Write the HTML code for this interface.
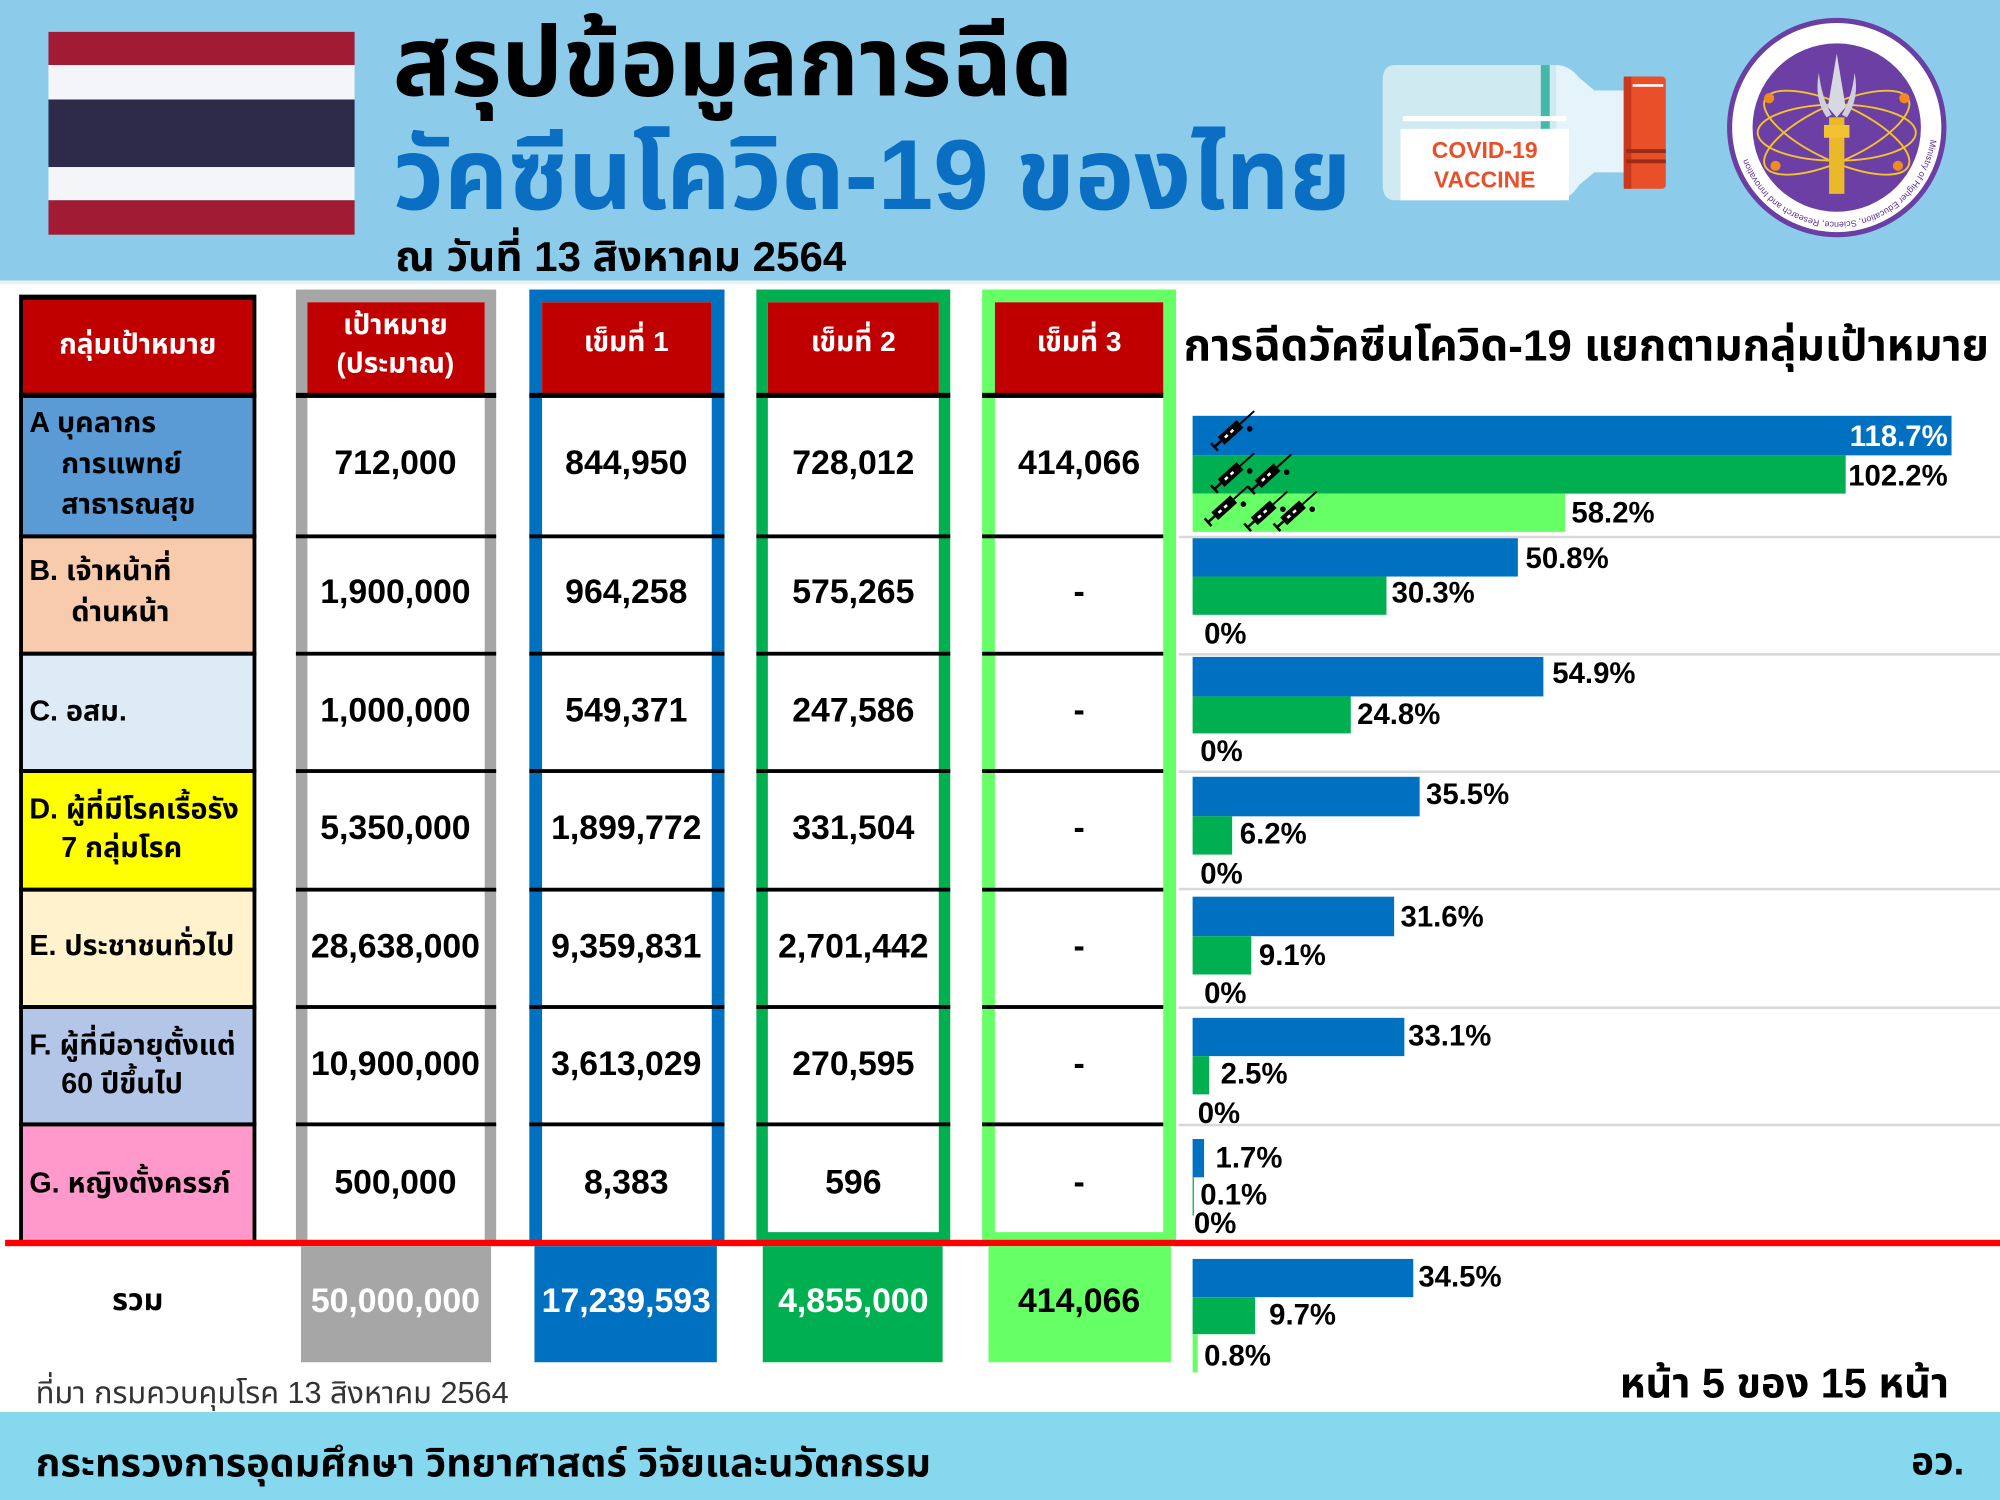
<!DOCTYPE html>
<html><head><meta charset="utf-8">
<style>
html,body{margin:0;padding:0;background:#fff;}
body{width:2000px;height:1500px;overflow:hidden;position:relative;}
#s{position:absolute;left:0;top:0;width:1568px;height:1176px;transform:scale(1.27551);transform-origin:0 0;overflow:hidden;
font-family:"Liberation Sans","Noto Sans Thai","Noto Sans Thai UI","Loma","Garuda","Waree","Tlwg Typo","Sawasdee","DejaVu Sans",sans-serif;}
.a{position:absolute;}
.t{position:absolute;white-space:nowrap;line-height:1;transform:translate(0,-50%);font-weight:bold;color:#000;}
.c{position:absolute;white-space:nowrap;line-height:1;transform:translate(-50%,-50%);font-weight:bold;color:#000;}
.r{position:absolute;white-space:nowrap;line-height:1;transform:translate(-100%,-50%);font-weight:bold;color:#000;}
.hd{color:#fff;font-size:22px;}
.num{font-size:26.5px;}
.lab{font-size:22.5px;}
.lbl{font-size:23px;}
.blk{position:absolute;background:#000;}
</style></head><body>
<div id="s">
<!-- header band -->
<div class="a" style="left:0;top:0;width:1568px;height:220px;background:#8DCBEB;"></div>
<div class="a" style="left:0;top:220px;width:1568px;height:3px;background:#e9f3f8;"></div>
<!-- flag -->
<div class="a" style="left:38px;top:25px;width:240px;height:26px;background:#A01B33;"></div>
<div class="a" style="left:38px;top:51px;width:240px;height:27px;background:#F4F5F8;"></div>
<div class="a" style="left:38px;top:78px;width:240px;height:53px;background:#2D2A4A;"></div>
<div class="a" style="left:38px;top:131px;width:240px;height:26px;background:#F4F5F8;"></div>
<div class="a" style="left:38px;top:157px;width:240px;height:27px;background:#A01B33;"></div>
<!-- titles -->
<div class="t" style="left:308px;top:50px;font-size:76px;">สรุปข้อมูลการฉีด</div>
<div class="t" style="left:308px;top:137px;font-size:78px;color:#0A6FC2;">วัคซีนโควิด-19 ของไทย</div>
<div class="t" style="left:310px;top:201px;font-size:33px;">ณ วันที่ 13 สิงหาคม 2564</div>
<!-- vaccine vial -->
<svg class="a" style="left:1080px;top:45px;" width="235" height="120" viewBox="0 0 235 120">
 <path d="M14 6 H140 Q150 6 158 16 L170 26 H196 V90 H170 L158 100 Q150 112 140 112 H14 Q4 112 4 100 V18 Q4 6 14 6 Z" fill="#CFEAF1"/>
 <path d="M140 6 Q150 6 158 16 L170 26 H196 V90 H170 L158 100 Q150 112 140 112 Z" fill="#E4F4FA"/>
 <rect x="128" y="6" width="7" height="60" fill="#45B9A8"/>
 <rect x="20" y="46" width="128" height="4" fill="#ffffff"/>
 <rect x="18" y="56" width="132" height="56" fill="#ffffff"/>
 <text x="84" y="79" text-anchor="middle" font-family="Liberation Sans, sans-serif" font-weight="bold" font-size="18" fill="#E8502B">COVID-19</text>
 <text x="84" y="102" text-anchor="middle" font-family="Liberation Sans, sans-serif" font-weight="bold" font-size="18" fill="#E8502B">VACCINE</text>
 <rect x="193" y="15" width="33" height="88" rx="3" fill="#E9502A"/>
 <rect x="193" y="15" width="6" height="88" fill="#C8391D"/>
 <rect x="200" y="21" width="24" height="2" fill="#ffffff"/>
 <rect x="195" y="72" width="31" height="3" fill="#9B2A17"/>
 <rect x="195" y="80" width="31" height="3" fill="#9B2A17"/>
</svg>
<!-- logo -->
<svg class="a" style="left:1352px;top:12px;" width="176" height="176" viewBox="0 0 176 176">
 <defs><path id="ring" d="M88 88 m-74 0 a74 74 0 1 1 148 0 a74 74 0 1 1 -148 0"/></defs>
 <circle cx="88" cy="88" r="84" fill="#fff" stroke="#6A3FA3" stroke-width="4"/>
 <circle cx="88" cy="88" r="66" fill="#6B3FA3"/>
 <text font-family="Liberation Sans, sans-serif" font-size="7" fill="#5A3090"><textPath href="#ring" startOffset="52%">Ministry of Higher Education, Science, Research and Innovation</textPath></text>
 <g fill="none" stroke="#F2C230" stroke-width="1.5">
  <ellipse cx="88" cy="92" rx="62" ry="22" transform="rotate(-25 88 92)"/>
  <ellipse cx="88" cy="92" rx="62" ry="22" transform="rotate(25 88 92)"/>
  <ellipse cx="88" cy="92" rx="62" ry="22"/>
 </g>
 <circle cx="35" cy="65" r="4" fill="#F08A24"/><circle cx="141" cy="65" r="4" fill="#F08A24"/>
 <circle cx="40" cy="118" r="4" fill="#F08A24"/><circle cx="136" cy="118" r="4" fill="#F08A24"/>
 <path d="M88 30 L95 72 L88 80 L81 72 Z" fill="#D8D8E0"/>
 <path d="M74 45 Q70 65 80 80 L84 78 Q76 64 74 45Z M102 45 Q106 65 96 80 L92 78 Q100 64 102 45Z" fill="#CFCFD8"/>
 <rect x="82" y="80" width="12" height="60" fill="#E9B92A"/>
 <rect x="78" y="86" width="20" height="10" fill="#F2C230"/>
</svg>

<!-- ================= TABLE ================= -->
<!-- column 1 -->
<div class="a" style="left:15px;top:231px;width:186px;height:744px;background:#000;"></div>
<div class="a" style="left:18px;top:235px;width:180px;height:73px;background:#C00000;"></div>
<div class="a" style="left:18px;top:312px;width:180px;height:107px;background:#5B9BD5;"></div>
<div class="a" style="left:18px;top:422px;width:180px;height:89px;background:#F8CBAD;"></div>
<div class="a" style="left:18px;top:514px;width:180px;height:89px;background:#DDEBF7;"></div>
<div class="a" style="left:18px;top:606px;width:180px;height:90px;background:#FFFF00;"></div>
<div class="a" style="left:18px;top:699px;width:180px;height:89px;background:#FFF2CC;"></div>
<div class="a" style="left:18px;top:791px;width:180px;height:89px;background:#B4C6E7;"></div>
<div class="a" style="left:18px;top:883px;width:180px;height:92px;background:#FF99CC;"></div>

<!-- gray column -->
<div class="a" style="left:232px;top:227px;width:157px;height:748px;background:#A6A6A6;"></div>
<div class="a" style="left:241px;top:237px;width:139px;height:738px;background:#fff;"></div>
<div class="a" style="left:241px;top:237px;width:139px;height:72px;background:#C00000;"></div>
<!-- blue column -->
<div class="a" style="left:415px;top:227px;width:153px;height:748px;background:#0070C0;"></div>
<div class="a" style="left:425px;top:237px;width:133px;height:738px;background:#fff;"></div>
<div class="a" style="left:425px;top:237px;width:133px;height:72px;background:#C00000;"></div>
<!-- green column -->
<div class="a" style="left:593px;top:227px;width:152px;height:748px;background:#00B050;"></div>
<div class="a" style="left:602px;top:237px;width:134px;height:729px;background:#fff;"></div>
<div class="a" style="left:602px;top:237px;width:134px;height:72px;background:#C00000;"></div>
<!-- light green column -->
<div class="a" style="left:770px;top:227px;width:152px;height:748px;background:#66FF66;"></div>
<div class="a" style="left:780px;top:237px;width:132px;height:729px;background:#fff;"></div>
<div class="a" style="left:780px;top:237px;width:132px;height:72px;background:#C00000;"></div>

<!-- horizontal black separators -->
<div class="blk" style="left:15px;top:308px;width:186px;height:4px;"></div>
<div class="blk" style="left:232px;top:308px;width:157px;height:4px;"></div>
<div class="blk" style="left:415px;top:308px;width:153px;height:4px;"></div>
<div class="blk" style="left:593px;top:308px;width:152px;height:4px;"></div>
<div class="blk" style="left:770px;top:308px;width:142px;height:4px;"></div>

<div class="blk" style="left:15px;top:419px;width:186px;height:3px;"></div>
<div class="blk" style="left:232px;top:419px;width:157px;height:3px;"></div>
<div class="blk" style="left:415px;top:419px;width:153px;height:3px;"></div>
<div class="blk" style="left:593px;top:419px;width:152px;height:3px;"></div>
<div class="blk" style="left:770px;top:419px;width:142px;height:3px;"></div>

<div class="blk" style="left:15px;top:511px;width:186px;height:3px;"></div>
<div class="blk" style="left:232px;top:511px;width:157px;height:3px;"></div>
<div class="blk" style="left:415px;top:511px;width:153px;height:3px;"></div>
<div class="blk" style="left:593px;top:511px;width:152px;height:3px;"></div>
<div class="blk" style="left:770px;top:511px;width:142px;height:3px;"></div>

<div class="blk" style="left:15px;top:603px;width:186px;height:3px;"></div>
<div class="blk" style="left:232px;top:603px;width:157px;height:3px;"></div>
<div class="blk" style="left:415px;top:603px;width:153px;height:3px;"></div>
<div class="blk" style="left:593px;top:603px;width:152px;height:3px;"></div>
<div class="blk" style="left:770px;top:603px;width:142px;height:3px;"></div>

<div class="blk" style="left:15px;top:696px;width:186px;height:3px;"></div>
<div class="blk" style="left:232px;top:696px;width:157px;height:3px;"></div>
<div class="blk" style="left:415px;top:696px;width:153px;height:3px;"></div>
<div class="blk" style="left:593px;top:696px;width:152px;height:3px;"></div>
<div class="blk" style="left:770px;top:696px;width:142px;height:3px;"></div>

<div class="blk" style="left:15px;top:788px;width:186px;height:3px;"></div>
<div class="blk" style="left:232px;top:788px;width:157px;height:3px;"></div>
<div class="blk" style="left:415px;top:788px;width:153px;height:3px;"></div>
<div class="blk" style="left:593px;top:788px;width:152px;height:3px;"></div>
<div class="blk" style="left:770px;top:788px;width:142px;height:3px;"></div>

<div class="blk" style="left:15px;top:880px;width:186px;height:3px;"></div>
<div class="blk" style="left:232px;top:880px;width:157px;height:3px;"></div>
<div class="blk" style="left:415px;top:880px;width:153px;height:3px;"></div>
<div class="blk" style="left:593px;top:880px;width:152px;height:3px;"></div>
<div class="blk" style="left:770px;top:880px;width:142px;height:3px;"></div>

<!-- header texts -->
<div class="c hd" style="left:108px;top:270px;">กลุ่มเป้าหมาย</div>
<div class="c hd" style="left:310px;top:255px;">เป้าหมาย</div>
<div class="c hd" style="left:310px;top:285px;">(ประมาณ)</div>
<div class="c hd" style="left:491px;top:268px;">เข็มที่ 1</div>
<div class="c hd" style="left:669px;top:268px;">เข็มที่ 2</div>
<div class="c hd" style="left:846px;top:268px;">เข็มที่ 3</div>

<!-- group labels -->
<div class="t lab" style="left:23px;top:332px;">A บุคลากร</div>
<div class="t lab" style="left:48px;top:364px;">การแพทย์</div>
<div class="t lab" style="left:48px;top:396px;">สาธารณสุข</div>
<div class="t lab" style="left:23px;top:448px;">B. เจ้าหน้าที่</div>
<div class="t lab" style="left:56px;top:480px;">ด่านหน้า</div>
<div class="t lab" style="left:23px;top:558px;">C. อสม.</div>
<div class="t lab" style="left:23px;top:635px;">D. ผู้ที่มีโรคเรื้อรัง</div>
<div class="t lab" style="left:48px;top:665px;">7 กลุ่มโรค</div>
<div class="t lab" style="left:23px;top:742px;">E. ประชาชนทั่วไป</div>
<div class="t lab" style="left:23px;top:820px;">F. ผู้ที่มีอายุตั้งแต่</div>
<div class="t lab" style="left:48px;top:850px;">60 ปีขึ้นไป</div>
<div class="t lab" style="left:23px;top:928px;">G. หญิงตั้งครรภ์</div>

<!-- numbers -->
<div class="c num" style="left:310px;top:363px;">712,000</div>
<div class="c num" style="left:491px;top:363px;">844,950</div>
<div class="c num" style="left:669px;top:363px;">728,012</div>
<div class="c num" style="left:846px;top:363px;">414,066</div>

<div class="c num" style="left:310px;top:464px;">1,900,000</div>
<div class="c num" style="left:491px;top:464px;">964,258</div>
<div class="c num" style="left:669px;top:464px;">575,265</div>
<div class="c num" style="left:846px;top:464px;">-</div>

<div class="c num" style="left:310px;top:557px;">1,000,000</div>
<div class="c num" style="left:491px;top:557px;">549,371</div>
<div class="c num" style="left:669px;top:557px;">247,586</div>
<div class="c num" style="left:846px;top:557px;">-</div>

<div class="c num" style="left:310px;top:649px;">5,350,000</div>
<div class="c num" style="left:491px;top:649px;">1,899,772</div>
<div class="c num" style="left:669px;top:649px;">331,504</div>
<div class="c num" style="left:846px;top:649px;">-</div>

<div class="c num" style="left:310px;top:742px;">28,638,000</div>
<div class="c num" style="left:491px;top:742px;">9,359,831</div>
<div class="c num" style="left:669px;top:742px;">2,701,442</div>
<div class="c num" style="left:846px;top:742px;">-</div>

<div class="c num" style="left:310px;top:834px;">10,900,000</div>
<div class="c num" style="left:491px;top:834px;">3,613,029</div>
<div class="c num" style="left:669px;top:834px;">270,595</div>
<div class="c num" style="left:846px;top:834px;">-</div>

<div class="c num" style="left:310px;top:927px;">500,000</div>
<div class="c num" style="left:491px;top:927px;">8,383</div>
<div class="c num" style="left:669px;top:927px;">596</div>
<div class="c num" style="left:846px;top:927px;">-</div>

<!-- red line -->
<div class="a" style="left:4px;top:972px;width:1564px;height:5px;background:#FF0000;"></div>

<!-- totals -->
<div class="c" style="left:108px;top:1020px;font-size:24px;">รวม</div>
<div class="a" style="left:236px;top:977px;width:149px;height:91px;background:#A6A6A6;"></div>
<div class="a" style="left:419px;top:977px;width:143px;height:91px;background:#0070C0;"></div>
<div class="a" style="left:598px;top:977px;width:141px;height:91px;background:#00B050;"></div>
<div class="a" style="left:775px;top:977px;width:143px;height:91px;background:#66FF66;"></div>
<div class="c num" style="left:310px;top:1020px;color:#fff;">50,000,000</div>
<div class="c num" style="left:491px;top:1020px;color:#fff;">17,239,593</div>
<div class="c num" style="left:669px;top:1020px;color:#fff;">4,855,000</div>
<div class="c num" style="left:846px;top:1020px;">414,066</div>

<!-- ================= CHART ================= -->
<div class="t" style="left:928px;top:272px;font-size:34.5px;">การฉีดวัคซีนโควิด-19 แยกตามกลุ่มเป้าหมาย</div>

<!-- separators -->
<div class="a" style="left:924px;top:420px;width:644px;height:2px;background:#D9D9D9;"></div>
<div class="a" style="left:924px;top:512px;width:644px;height:2px;background:#D9D9D9;"></div>
<div class="a" style="left:924px;top:604px;width:644px;height:2px;background:#D9D9D9;"></div>
<div class="a" style="left:924px;top:696px;width:644px;height:2px;background:#D9D9D9;"></div>
<div class="a" style="left:924px;top:789px;width:644px;height:2px;background:#D9D9D9;"></div>
<div class="a" style="left:924px;top:881px;width:644px;height:2px;background:#D9D9D9;"></div>

<!-- Row A -->
<div class="a" style="left:935px;top:326px;width:595px;height:31px;background:#0070C0;"></div>
<div class="a" style="left:935px;top:357px;width:512px;height:30px;background:#00B050;"></div>
<div class="a" style="left:935px;top:387px;width:292px;height:30px;background:#66FF66;"></div>
<div class="r lbl" style="left:1527px;top:342px;color:#fff;">118.7%</div>
<div class="t lbl" style="left:1449px;top:373px;">102.2%</div>
<div class="t lbl" style="left:1232px;top:402px;">58.2%</div>
<!-- Row B -->
<div class="a" style="left:935px;top:422px;width:255px;height:30px;background:#0070C0;"></div>
<div class="a" style="left:935px;top:452px;width:152px;height:30px;background:#00B050;"></div>
<div class="t lbl" style="left:1196px;top:438px;">50.8%</div>
<div class="t lbl" style="left:1091px;top:465px;">30.3%</div>
<div class="t lbl" style="left:944px;top:497px;">0%</div>
<!-- Row C -->
<div class="a" style="left:935px;top:515px;width:275px;height:31px;background:#0070C0;"></div>
<div class="a" style="left:935px;top:546px;width:124px;height:29px;background:#00B050;"></div>
<div class="t lbl" style="left:1217px;top:528px;">54.9%</div>
<div class="t lbl" style="left:1064px;top:560px;">24.8%</div>
<div class="t lbl" style="left:941px;top:589px;">0%</div>
<!-- Row D -->
<div class="a" style="left:935px;top:609px;width:178px;height:31px;background:#0070C0;"></div>
<div class="a" style="left:935px;top:640px;width:31px;height:30px;background:#00B050;"></div>
<div class="t lbl" style="left:1118px;top:623px;">35.5%</div>
<div class="t lbl" style="left:972px;top:654px;">6.2%</div>
<div class="t lbl" style="left:941px;top:685px;">0%</div>
<!-- Row E -->
<div class="a" style="left:935px;top:703px;width:158px;height:31px;background:#0070C0;"></div>
<div class="a" style="left:935px;top:734px;width:46px;height:30px;background:#00B050;"></div>
<div class="t lbl" style="left:1098px;top:719px;">31.6%</div>
<div class="t lbl" style="left:987px;top:749px;">9.1%</div>
<div class="t lbl" style="left:944px;top:779px;">0%</div>
<!-- Row F -->
<div class="a" style="left:935px;top:798px;width:166px;height:30px;background:#0070C0;"></div>
<div class="a" style="left:935px;top:828px;width:13px;height:30px;background:#00B050;"></div>
<div class="t lbl" style="left:1104px;top:812px;">33.1%</div>
<div class="t lbl" style="left:957px;top:842px;">2.5%</div>
<div class="t lbl" style="left:939px;top:873px;">0%</div>
<!-- Row G -->
<div class="a" style="left:935px;top:893px;width:9px;height:30px;background:#0070C0;"></div>
<div class="a" style="left:935px;top:923px;width:1px;height:30px;background:#00B050;"></div>
<div class="t lbl" style="left:953px;top:908px;">1.7%</div>
<div class="t lbl" style="left:941px;top:937px;">0.1%</div>
<div class="t lbl" style="left:936px;top:959px;">0%</div>
<!-- Total -->
<div class="a" style="left:935px;top:987px;width:173px;height:30px;background:#0070C0;"></div>
<div class="a" style="left:935px;top:1017px;width:49px;height:29px;background:#00B050;"></div>
<div class="a" style="left:935px;top:1046px;width:4px;height:30px;background:#66FF66;"></div>
<div class="t lbl" style="left:1112px;top:1001px;">34.5%</div>
<div class="t lbl" style="left:995px;top:1031px;">9.7%</div>
<div class="t lbl" style="left:944px;top:1063px;">0.8%</div>

<!-- syringes -->
<svg class="a" style="left:930px;top:310px;" width="120" height="120" viewBox="0 0 120 120">
 <g transform="translate(37 27) rotate(-42)">
  <rect x="-13" y="-4" width="20" height="8" fill="#000"/>
  <rect x="-19" y="-1" width="6" height="2" fill="#000"/>
  <rect x="-21" y="-4" width="2" height="8" fill="#000"/>
  <line x1="7" y1="0" x2="22" y2="0" stroke="#000" stroke-width="1.5"/>
  <rect x="-9" y="-1" width="3" height="2" fill="#fff"/><rect x="-3" y="-1" width="3" height="2" fill="#fff"/>
  <circle cx="10" cy="8" r="2.2" fill="#000"/>
 </g>
 <g transform="translate(37 60) rotate(-42)">
  <rect x="-13" y="-4" width="20" height="8" fill="#000"/><rect x="-19" y="-1" width="6" height="2" fill="#000"/><rect x="-21" y="-4" width="2" height="8" fill="#000"/>
  <line x1="7" y1="0" x2="22" y2="0" stroke="#000" stroke-width="1.5"/><rect x="-9" y="-1" width="3" height="2" fill="#fff"/><rect x="-3" y="-1" width="3" height="2" fill="#fff"/><circle cx="10" cy="8" r="2.2" fill="#000"/>
 </g>
 <g transform="translate(66 61) rotate(-42)">
  <rect x="-13" y="-4" width="20" height="8" fill="#000"/><rect x="-19" y="-1" width="6" height="2" fill="#000"/><rect x="-21" y="-4" width="2" height="8" fill="#000"/>
  <line x1="7" y1="0" x2="22" y2="0" stroke="#000" stroke-width="1.5"/><rect x="-9" y="-1" width="3" height="2" fill="#fff"/><rect x="-3" y="-1" width="3" height="2" fill="#fff"/><circle cx="10" cy="8" r="2.2" fill="#000"/>
 </g>
 <g transform="translate(32 86) rotate(-42)">
  <rect x="-13" y="-4" width="20" height="8" fill="#000"/><rect x="-19" y="-1" width="6" height="2" fill="#000"/><rect x="-21" y="-4" width="2" height="8" fill="#000"/>
  <line x1="7" y1="0" x2="22" y2="0" stroke="#000" stroke-width="1.5"/><rect x="-9" y="-1" width="3" height="2" fill="#fff"/><rect x="-3" y="-1" width="3" height="2" fill="#fff"/><circle cx="10" cy="8" r="2.2" fill="#000"/>
 </g>
 <g transform="translate(63 90) rotate(-42)">
  <rect x="-13" y="-4" width="20" height="8" fill="#000"/><rect x="-19" y="-1" width="6" height="2" fill="#000"/><rect x="-21" y="-4" width="2" height="8" fill="#000"/>
  <line x1="7" y1="0" x2="22" y2="0" stroke="#000" stroke-width="1.5"/><rect x="-9" y="-1" width="3" height="2" fill="#fff"/><rect x="-3" y="-1" width="3" height="2" fill="#fff"/><circle cx="10" cy="8" r="2.2" fill="#000"/>
 </g>
 <g transform="translate(86 90) rotate(-42)">
  <rect x="-13" y="-4" width="20" height="8" fill="#000"/><rect x="-19" y="-1" width="6" height="2" fill="#000"/><rect x="-21" y="-4" width="2" height="8" fill="#000"/>
  <line x1="7" y1="0" x2="22" y2="0" stroke="#000" stroke-width="1.5"/><rect x="-9" y="-1" width="3" height="2" fill="#fff"/><rect x="-3" y="-1" width="3" height="2" fill="#fff"/><circle cx="10" cy="8" r="2.2" fill="#000"/>
 </g>
</svg>

<!-- source & page -->
<div class="t" style="left:28px;top:1093px;font-size:24px;font-weight:normal;color:#333;">ที่มา กรมควบคุมโรค 13 สิงหาคม 2564</div>
<div class="r" style="left:1528px;top:1085px;font-size:32.5px;">หน้า 5 ของ 15 หน้า</div>

<!-- footer -->
<div class="a" style="left:0;top:1107px;width:1568px;height:69px;background:#85D8EE;"></div>
<div class="t" style="left:28px;top:1147px;font-size:31px;">กระทรวงการอุดมศึกษา วิทยาศาสตร์ วิจัยและนวัตกรรม</div>
<div class="r" style="left:1540px;top:1147px;font-size:30px;">อว.</div>
</div>
</body></html>
